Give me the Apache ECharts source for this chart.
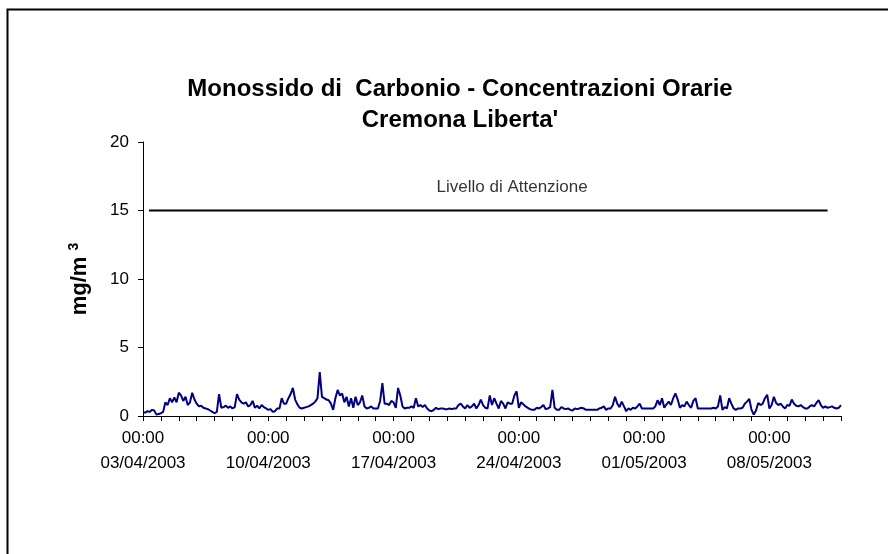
<!DOCTYPE html>
<html>
<head>
<meta charset="utf-8">
<title>Monossido di Carbonio - Cremona Liberta'</title>
<script src="https://cdn.jsdelivr.net/npm/echarts@6/dist/echarts.min.js"></script>
<style>
html,body{margin:0;padding:0;background:#fff;}
#chart{width:888px;height:554px;}
</style>
</head>
<body>
<div id="chart"></div>
<script>
// ore dal 03/04/2003 00:00, un valore ogni 3 ore
var startDay = Date.UTC(2003, 3, 3);
var stepHours = 3;
var conc = [
  0.25, 0.25, 0.35, 0.3, 0.45, 0.4, 0.1, 0.15,   // 03/04
  0.2, 0.3, 1.0, 0.8, 1.3, 1.0, 1.35, 1.0,
  1.7, 1.5, 1.1, 1.4, 0.8, 1.0, 1.7, 1.2,
  0.9, 0.7, 0.75, 0.6, 0.55, 0.5, 0.4, 0.3,
  0.2, 0.3, 1.6, 0.6, 0.65, 0.75, 0.6, 0.7,
  0.55, 0.65, 1.6, 1.2, 1.0, 0.9, 1.0, 0.7,
  0.8, 1.1, 0.6, 0.75, 0.55, 0.8, 0.65, 0.55,
  0.45, 0.5, 0.3, 0.35, 0.55, 0.55, 1.3, 0.9,    // 10/04
  0.9, 1.3, 1.6, 2.05, 1.2, 0.85, 0.6, 0.55,
  0.6, 0.65, 0.7, 0.8, 0.9, 1.05, 1.3, 3.2,
  1.4, 1.3, 1.2, 1.15, 0.9, 0.45, 1.3, 1.9,
  1.5, 1.65, 1.0, 1.4, 0.7, 1.3, 0.6, 1.4,
  0.8, 1.0, 1.5, 0.7, 0.55, 0.6, 0.7, 0.55,
  0.55, 0.55, 1.1, 2.4, 0.9, 0.9, 0.8, 1.1,
  1.0, 0.6, 2.05, 1.5, 0.7, 0.55, 0.6, 0.6,      // 17/04
  0.7, 0.6, 1.3, 0.7, 0.8, 0.65, 0.8, 0.55,
  0.4, 0.35, 0.45, 0.6, 0.5, 0.55, 0.55, 0.5,
  0.5, 0.55, 0.5, 0.55, 0.55, 0.8, 0.9, 0.7,
  0.55, 0.8, 0.6, 0.7, 0.9, 0.55, 0.8, 1.2,
  0.8, 0.6, 0.55, 1.5, 0.8, 1.3, 0.9, 0.55,
  1.1, 0.9, 0.55, 1.0, 0.9, 0.9, 1.5, 1.8,
  0.6, 1.0, 0.85, 0.7, 0.6, 0.5, 0.45, 0.45,     // 24/04
  0.6, 0.55, 0.65, 0.8, 0.5, 0.55, 0.65, 1.9,
  0.6, 0.45, 0.45, 0.65, 0.55, 0.5, 0.55, 0.45,
  0.4, 0.55, 0.5, 0.55, 0.6, 0.55, 0.45, 0.45,
  0.45, 0.45, 0.45, 0.45, 0.55, 0.6, 0.7, 0.45,
  0.55, 0.55, 0.8, 1.4, 0.9, 0.65, 1.05, 0.7,
  0.35, 0.55, 0.45, 0.6, 0.55, 0.7, 0.9, 0.55,
  0.55, 0.55, 0.55, 0.55, 0.55, 0.7, 1.15, 0.8,  // 01/05
  1.3, 0.6, 0.85, 1.05, 0.8, 1.3, 1.65, 1.2,
  0.6, 0.8, 0.7, 1.05, 0.8, 0.6, 1.1, 1.3,
  0.55, 0.55, 0.55, 0.55, 0.55, 0.55, 0.55, 0.6,
  0.55, 0.7, 1.5, 0.45, 0.65, 0.55, 1.3, 0.9,
  0.55, 0.45, 0.55, 0.55, 0.6, 0.9, 1.05, 1.25,
  0.45, 0.1, 0.4, 0.95, 0.8, 0.9, 1.3, 1.55,
  0.55, 0.8, 1.4, 0.95, 0.8, 0.9, 0.7, 0.55,     // 08/05
  0.8, 0.75, 1.2, 0.9, 0.75, 0.7, 0.8, 0.65,
  0.55, 0.55, 0.7, 0.8, 0.7, 0.95, 1.15, 0.8,
  0.6, 0.7, 0.6, 0.65, 0.7, 0.6, 0.55, 0.6,
  0.8
];
var totalHours = 936;
var attenzione = 15;
var attenzioneOre = [8, 918];        // inizio, fine della linea
var attenzioneEtichettaOra = 495;
var attenzioneNome = 'Livello di Attenzione';

var font = 'Liberation Sans, Arial, sans-serif';

function pad(n){ return (n < 10 ? '0' : '') + n; }
function fmtOra(v){
  var d = new Date(startDay + v * 3600000);
  return pad(d.getUTCHours()) + ':' + pad(d.getUTCMinutes()) + '\n' +
    pad(d.getUTCDate()) + '/' + pad(d.getUTCMonth() + 1) + '/' + d.getUTCFullYear();
}

var chart = echarts.init(document.getElementById('chart'));
var option = {
  animation: false,
  backgroundColor: '#fff',
  title: {
    text: "Monossido di  Carbonio - Concentrazioni Orarie\nCremona Liberta'",
    left: 455,
    top: 69,
    textAlign: 'center',
    textStyle: { fontFamily: font, fontSize: 24, fontWeight: 'bold', color: '#000', lineHeight: 31 }
  },
  grid: { left: 143, right: 47, top: 142, bottom: 138 },
  xAxis: {
    type: 'value',
    min: 0,
    max: totalHours,
    interval: 168,
    axisLine: { lineStyle: { color: '#000', width: 1 } },
    axisTick: { show: true, length: 5, lineStyle: { color: '#000' } },
    minorTick: { show: true, splitNumber: 7, length: 5, lineStyle: { color: '#000' } },
    splitLine: { show: false },
    axisLabel: {
      margin: 10, color: '#000', fontFamily: font, fontSize: 17, lineHeight: 25,
      showMaxLabel: false,
      formatter: fmtOra
    }
  },
  yAxis: {
    type: 'value',
    min: 0,
    max: 20,
    interval: 5,
    name: '{a|mg/m }{b|3}',
    nameLocation: 'middle',
    nameGap: 50,
    nameRotate: 90,
    nameTextStyle: {
      rich: {
        a: { fontFamily: font, fontSize: 22, fontWeight: 'bold', color: '#000', lineHeight: 26 },
        b: { fontFamily: font, fontSize: 14, fontWeight: 'bold', color: '#000', lineHeight: 26, verticalAlign: 'top' }
      }
    },
    axisLine: { show: true, lineStyle: { color: '#000', width: 1 } },
    axisTick: { show: true, length: 5, lineStyle: { color: '#000' } },
    splitLine: { show: false },
    axisLabel: { margin: 14, color: '#000', fontFamily: font, fontSize: 17 }
  },
  graphic: [{
    type: 'rect',
    shape: { x: 7.5, y: 9.5, width: 900, height: 600 },
    style: { fill: 'none', stroke: '#000', lineWidth: 2 },
    silent: true
  }],
  series: [{
    name: 'CO',
    type: 'line',
    showSymbol: false,
    lineStyle: { color: '#000080', width: 2 },
    data: conc.map(function(v, i){ return [i * stepHours, v]; })
  }, {
    name: attenzioneNome,
    type: 'line',
    showSymbol: false,
    lineStyle: { color: '#000', width: 2 },
    data: attenzioneOre.map(function(h){ return [h, attenzione]; })
  }, {
    name: attenzioneNome + ' etichetta',
    type: 'scatter',
    symbolSize: 1,
    itemStyle: { color: 'rgba(0,0,0,0)' },
    label: {
      show: true, position: 'top', distance: 14, formatter: attenzioneNome,
      color: '#000', fontFamily: font, fontSize: 17
    },
    data: [[attenzioneEtichettaOra, attenzione]]
  }]
};
chart.setOption(option);
</script>
</body>
</html>
